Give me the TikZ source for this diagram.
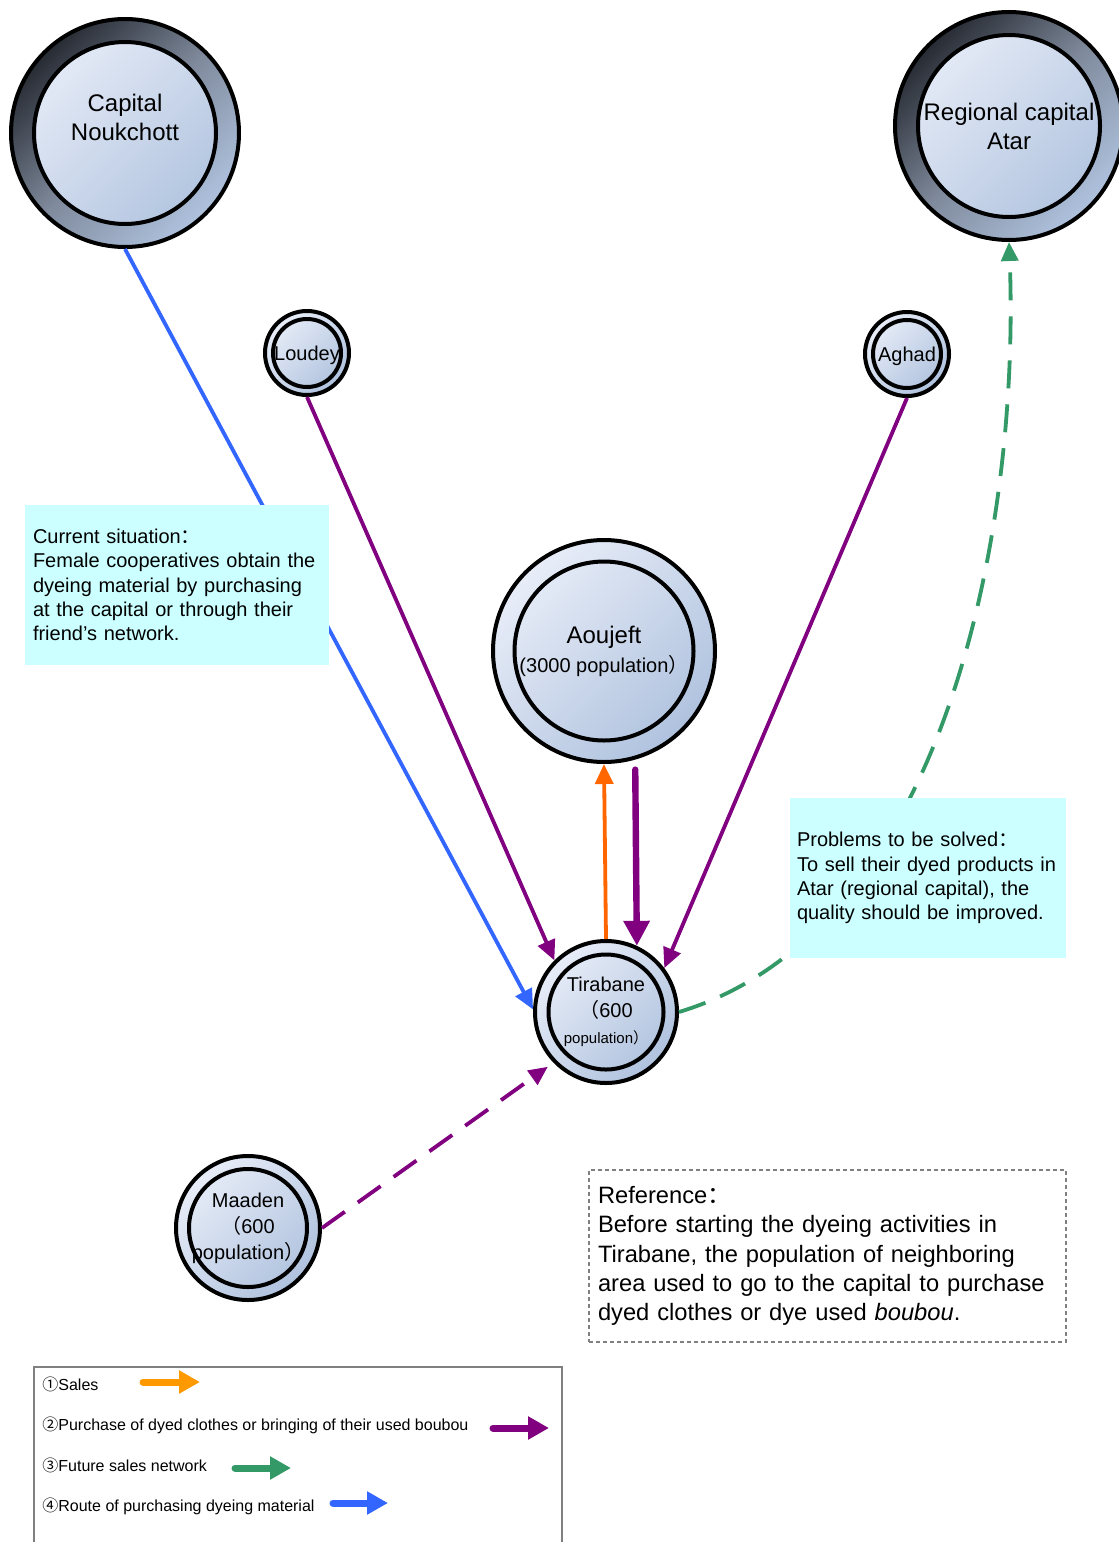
\documentclass[tikz,border=0pt]{standalone}
\usepackage{fontspec}
\setmainfont{Liberation Sans}
\newfontfamily\cjk{Noto Sans CJK SC}
\newcommand\fullw[1]{{\cjk #1}}
\usetikzlibrary{arrows.meta}

\definecolor{ringdark}{HTML}{272B33}
\definecolor{ringmid}{HTML}{7F8A9C}
\definecolor{discA}{HTML}{E8EDF8}
\definecolor{discB}{HTML}{AFC2DE}
\definecolor{note}{HTML}{CCFFFF}
\definecolor{cblue}{HTML}{3366FF}
\definecolor{cpurple}{HTML}{800080}
\definecolor{corange}{HTML}{FF6600}
\definecolor{lorange}{HTML}{FF9900}
\definecolor{cgreen}{HTML}{339966}
\definecolor{framegrey}{HTML}{808080}

\begin{document}
\begin{tikzpicture}[x=0.5pt,y=-0.5pt,
  disc/.style={top color=discA, bottom color=discB, shading angle=45},
  darkring/.style={top color=ringdark, bottom color=discB, middle color=ringmid, shading angle=45},
  % #1 = outer diameter (pt), #2 = inner ring radius (pt)
  place/.style 2 args={circle, draw=black, line width=2pt, inner sep=0pt,
    minimum size=#1pt, align=center, disc,
    path picture={
      \shade[disc] (path picture bounding box.center) circle (#2pt);
      \draw[line width=2pt] (path picture bounding box.center) circle (#2pt);}},
  bigtxt/.style={font=\fontsize{12}{14.5}\selectfont},
  midtxt/.style={font=\fontsize{10}{13}\selectfont},
  link/.style={line width=1.9pt, -{Triangle[length=10pt,width=9pt]}},
  fat/.style={line width=3.2pt, line cap=round, -{Triangle[length=12.5pt,width=12.5pt]}},
  dashlink/.style={line width=1.9pt, dash pattern=on 14pt off 8pt, -{Triangle[length=9.5pt,width=8.5pt]}},
  callout/.style={fill=note, inner ysep=0pt, align=left, minimum height=80pt,
    font=\fontsize{10}{12.15}\selectfont},
  legtxt/.style={anchor=west, inner sep=0pt, font=\fontsize{8}{10}\selectfont},
  legarrow/.style={line width=3.5pt, line cap=round, -{Triangle[length=10.5pt,width=11pt]}}
]
\useasboundingbox (0,0) rectangle (1119,1542);
\clip (0,0) rectangle (1119,1542);
\fill[white] (0,0) rectangle (1119,1542);

% places
\node[place={114}{45.5}, darkring,
  label={[bigtxt, align=center, yshift=8pt]center:Capital\\Noukchott}] (nou) at (125,133) {};
\node[place={114}{45.5}, darkring, bigtxt] (atar) at (1009,126) {Regional capital\\Atar};
\node[place={42}{17}, midtxt, text depth=0pt] (lou) at (307,353) {Loudey};
\node[place={42}{17}, midtxt, text depth=0pt] (agh) at (907,354) {Aghad};
\node[place={111}{44.75}, bigtxt] (aou) at (604,651)
  {Aoujeft\\{\fontsize{10}{14.5}\selectfont(3000 population\fullw{）}}};
\node[place={71}{28.75}, midtxt] (tir) at (606,1012)
  {Tirabane\\\fullw{（}600\\{\fontsize{7.5}{13}\selectfont population\fullw{）}}};
\node[place={72}{29.5}, midtxt] (mad) at (248,1228)
  {Maaden\\\fullw{（}600\\population\fullw{）}};

% flows
\draw[link, cblue] (nou.south) -- (tir.178);
\draw[link, cpurple] (lou.south) -- (tir.135);
\draw[link, cpurple] (agh.south) -- (tir.37);
\draw[link, corange] (tir.north) -- (aou.south);
\draw[fat, cpurple, shorten <=5pt] (aou.-74) -- (tir.65);
\draw[dashlink, cpurple, shorten >=3.5pt] (mad.east) -- (tir.224);
\draw[dashlink, cgreen] (tir.east) .. controls (950,930) and (1020,520) .. (atar.south);

% notes
\node[callout, text width=144pt, inner xsep=4pt] (now) at (177,585)
  {Current situation\fullw{：}\\Female cooperatives obtain the\\dyeing material by purchasing\\at the capital or through their\\friend’s network.};
\node[callout, text width=131pt, inner xsep=3.5pt] (todo) at (928,878)
  {Problems to be solved\fullw{：}\\To sell their dyed products in\\Atar (regional capital), the\\quality should be improved.};
\node[draw=framegrey, line width=1pt, dash pattern=on 2pt off 1.5pt, align=left,
  text width=229.5pt, inner xsep=4.5pt, inner ysep=0pt, minimum height=86pt,
  font=\fontsize{11.85}{14.6}\selectfont] (refbox) at (827.5,1256)
  {Reference\fullw{：}\\Before starting the dyeing activities in\\Tirabane, the population of neighboring\\area used to go to the capital to purchase\\dyed clothes or dye used \textit{boubou}.};

% legend
\node[draw=framegrey, line width=1pt, anchor=north west, minimum width=264pt,
  minimum height=120pt, inner sep=0pt] (legend) at (33,1366) {};
\node[legtxt] (l1) at (42,1384) {\fullw{①}Sales};
\node[legtxt] (l2) at (42,1425) {\fullw{②}Purchase of dyed clothes or bringing of their used boubou};
\node[legtxt] (l3) at (42,1465) {\fullw{③}Future sales network};
\node[legtxt] (l4) at (42,1506) {\fullw{④}Route of purchasing dyeing material};
\coordinate (a1s) at (143,1382); \coordinate (a1e) at (200,1382);
\coordinate (a2s) at (493,1428); \coordinate (a2e) at (549,1428);
\coordinate (a3s) at (235,1468); \coordinate (a3e) at (291,1468);
\coordinate (a4s) at (333,1503); \coordinate (a4e) at (388,1503);
\draw[legarrow, lorange] (a1s) -- (a1e);
\draw[legarrow, cpurple] (a2s) -- (a2e);
\draw[legarrow, cgreen] (a3s) -- (a3e);
\draw[legarrow, cblue] (a4s) -- (a4e);
\end{tikzpicture}
\end{document}
